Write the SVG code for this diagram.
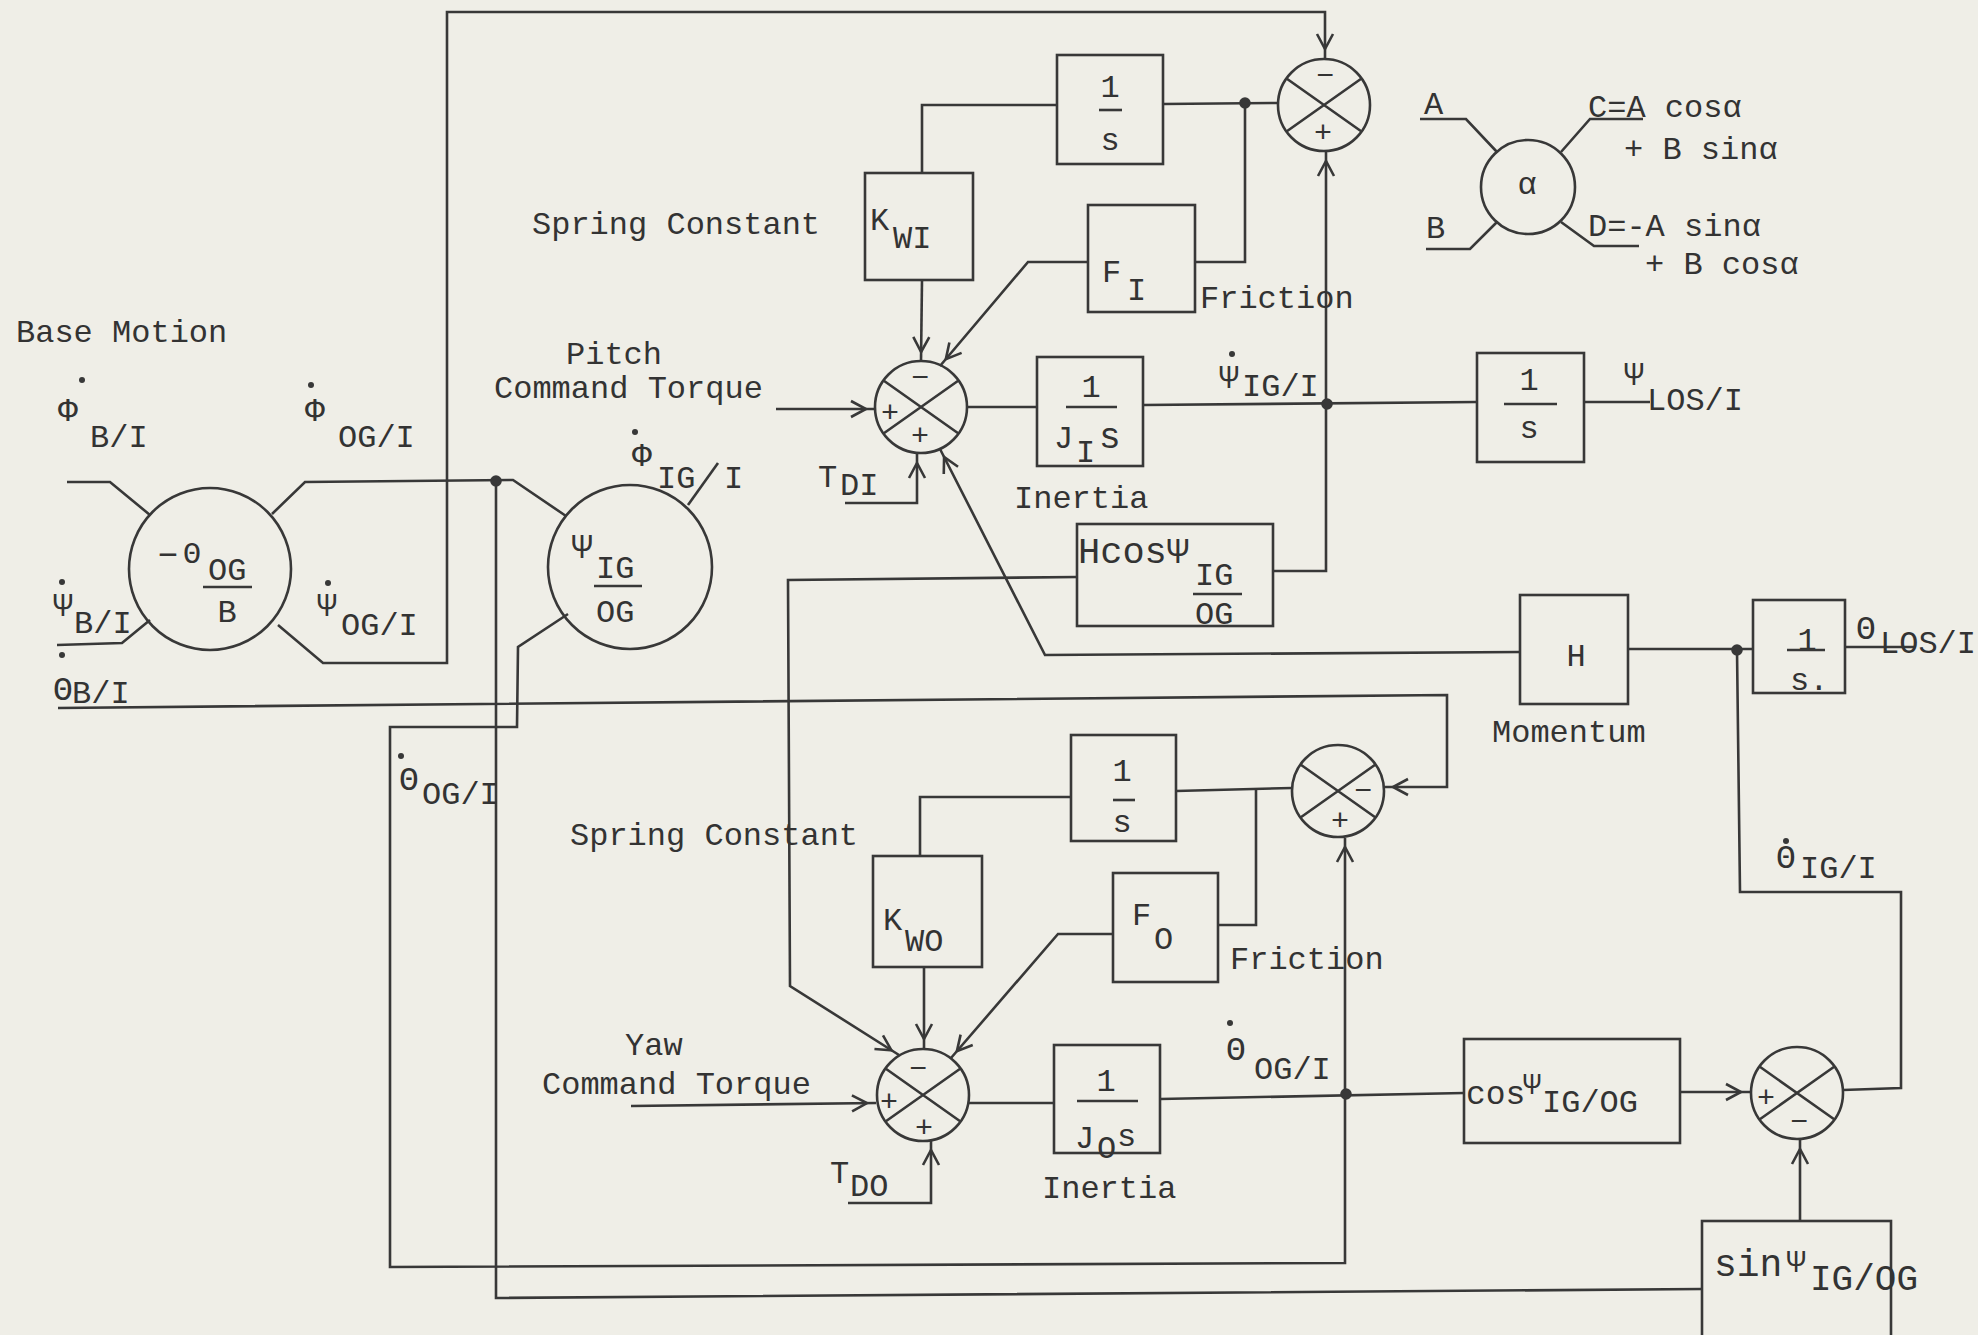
<svg xmlns="http://www.w3.org/2000/svg" width="1978" height="1335" viewBox="0 0 1978 1335">
<defs>
<style>
.ln{fill:none;stroke:#383838;stroke-width:2.6;stroke-linejoin:miter}
.bx{fill:none;stroke:#383838;stroke-width:2.6}
.t{font-family:"Liberation Mono","DejaVu Sans Mono",monospace;font-size:32px;fill:#333}
.g{font-size:33px;text-anchor:middle}
.s{font-size:30px;text-anchor:middle}
.m{text-anchor:middle}
.dot{fill:#383838}
</style>
<marker id="ar" markerUnits="userSpaceOnUse" viewBox="-2 -10 40 20" markerWidth="40" markerHeight="20" refX="24" refY="0" orient="auto">
<path d="M0,-8 L15,0 L0,8" fill="none" stroke="#383838" stroke-width="2.6"/>
</marker>
<g id="sumsym" class="bx">
<circle cx="0" cy="0" r="46"/>
<path d="M-37.5,-26.5 L37.5,26.5 M37.5,-26.5 L-37.5,26.5"/>
</g>
</defs>
<rect x="0" y="0" width="1978" height="1335" fill="#efeee7"/>

<g id="connectors" class="ln">
<path d="M278,625 L323,663 L447,663 L447,12 L1325,12 L1325,58" marker-end="url(#ar)"/>
<path d="M67,482 L110,482 L150,515"/>
<path d="M57,645 L122,643 L150,620"/>
<path d="M272,514 L305,482 L513,480 L566,516"/>
<path d="M496,481 L496,1298 L1702,1289"/>
<path d="M568,614 L518,647 L517,727 L390,727 L390,1267 L1345,1263 L1345,838" marker-end="url(#ar)"/>
<path d="M58,708 L1447,695 L1447,787 L1384,787" marker-end="url(#ar)"/>
<path d="M1077,577 L788,580 L790,986 L899,1055" marker-end="url(#ar)"/>
<path d="M967,407 L1037,407"/>
<path d="M1143,405 L1477,402"/>
<path d="M1273,571 L1326,571 L1326,152" marker-end="url(#ar)"/>
<path d="M1584,402 L1650,402"/>
<path d="M1277,103 L1163,104"/>
<path d="M1057,105 L922,105 L922,173"/>
<path d="M922,280 L921,361" marker-end="url(#ar)"/>
<path d="M1245,103 L1245,262 L1195,262"/>
<path d="M1088,262 L1028,262 L940,366" marker-end="url(#ar)"/>
<path d="M776,409 L875,409" marker-end="url(#ar)"/>
<path d="M845,503 L917,503 L917,454" marker-end="url(#ar)"/>
<path d="M1520,652 L1045,655 L940,449" marker-end="url(#ar)"/>
<path d="M1628,649 L1753,649"/>
<path d="M1845,647 L1915,647"/>
<path d="M1843,1090 L1901,1088 L1901,892 L1740,892 L1737,650"/>
<path d="M1160,1099 L1464,1093"/>
<path d="M1680,1092 L1750,1092" marker-end="url(#ar)"/>
<path d="M1800,1221 L1800,1140" marker-end="url(#ar)"/>
<path d="M1292,788 L1176,791"/>
<path d="M1071,797 L920,797 L920,856"/>
<path d="M924,967 L924,1048" marker-end="url(#ar)"/>
<path d="M1256,789 L1256,925 L1218,925"/>
<path d="M1113,934 L1058,934 L951,1058" marker-end="url(#ar)"/>
<path d="M631,1106 L876,1103" marker-end="url(#ar)"/>
<path d="M848,1203 L931,1203 L931,1141" marker-end="url(#ar)"/>
<path d="M969,1103 L1054,1103"/>
<path d="M688,505 L718,463"/>
<path d="M1420,119 L1466,119 L1497,152"/>
<path d="M1426,249 L1470,249 L1497,222"/>
<path d="M1561,152 L1590,119 L1643,119"/>
<path d="M1561,222 L1594,246 L1639,246"/>
<circle class="dot" cx="496" cy="481" r="4.5"/>
<circle class="dot" cx="1245" cy="103" r="4.5"/>
<circle class="dot" cx="1327" cy="404" r="4.5"/>
<circle class="dot" cx="1737" cy="650" r="4.5"/>
<circle class="dot" cx="1346" cy="1094" r="4.5"/>
</g>

<g id="labels" class="t">
<text x="16" y="342">Base Motion</text>
<circle class="dot" cx="82" cy="380" r="3"/><text class="g" x="68" y="421">Φ</text><text x="90" y="447">B/I</text>
<circle class="dot" cx="311" cy="385" r="3"/><text class="g" x="315" y="421">Φ</text><text x="338" y="447">OG/I</text>
<circle class="dot" cx="62" cy="582" r="3"/><text class="g" x="63" y="616">Ψ</text><text x="74" y="633">B/I</text>
<circle class="dot" cx="62" cy="655" r="3"/><text class="g" x="63" y="700">Θ</text><text x="72" y="703">B/I</text>
<circle class="dot" cx="328" cy="583" r="3"/><text class="g" x="327" y="616">Ψ</text><text x="341" y="635">OG/I</text>
<circle class="dot" cx="401" cy="756" r="3"/><text class="g" x="409" y="790">Θ</text><text x="422" y="804">OG/I</text>
<circle class="dot" cx="635" cy="432" r="3"/><text class="g" x="642" y="466">Φ</text><text x="657" y="488">IG</text><text x="724" y="488">I</text>
<text x="566" y="364">Pitch</text>
<text x="494" y="398">Command Torque</text>
<text x="532" y="234">Spring Constant</text>
<text x="1200" y="308">Friction</text>
<text x="1014" y="508">Inertia</text>
<text x="818" y="487">T</text><text x="840" y="495">DI</text>
<circle class="dot" cx="1232" cy="354" r="3"/><text class="g" x="1229" y="388">Ψ</text><text x="1242" y="396">IG/I</text>
<text class="g" x="1634" y="385">Ψ</text><text x="1647" y="410">LOS/I</text>
<text class="g" x="1866" y="639">Θ</text><text x="1880" y="653">LOS/I</text>
<text x="1492" y="742">Momentum</text>
<circle class="dot" cx="1786" cy="841" r="3"/><text class="g" x="1786" y="868">Θ</text><text x="1800" y="878">IG/I</text>
<text x="570" y="845">Spring Constant</text>
<text x="1230" y="969">Friction</text>
<text x="625" y="1055">Yaw</text>
<text x="542" y="1094">Command Torque</text>
<text x="830" y="1183">T</text><text x="850" y="1196">DO</text>
<text x="1042" y="1198">Inertia</text>
<circle class="dot" cx="1230" cy="1023" r="3"/><text class="g" x="1236" y="1060">Θ</text><text x="1254" y="1079">OG/I</text>
</g>

<g id="res1">
<circle class="bx" cx="210" cy="569" r="81"/>
<g class="t"><text class="m" x="168" y="566" style="font-size:34px">−</text><text class="g" x="192" y="563" style="font-size:30px">Θ</text><text x="208" y="580">OG</text><text class="m" x="227" y="622">B</text></g>
<path class="ln" d="M203,587 L252,587"/>
</g>
<g id="res2">
<circle class="bx" cx="630" cy="567" r="82"/>
<g class="t"><text class="g" x="582" y="558" style="font-size:35px">Ψ</text><text x="596" y="578">IG</text><text x="596" y="622">OG</text></g>
<path class="ln" d="M594,586 L642,586"/>
</g>

<g id="sum1"><use href="#sumsym" x="1324" y="105"/><g class="t s"><text x="1325" y="85">−</text><text x="1323" y="142">+</text></g></g>
<g id="sum2"><use href="#sumsym" x="921" y="407"/><g class="t s"><text x="920" y="387">−</text><text x="890" y="422">+</text><text x="920" y="445">+</text></g></g>
<g id="sum3"><use href="#sumsym" x="1338" y="791"/><g class="t s"><text x="1363" y="800">−</text><text x="1340" y="830">+</text></g></g>
<g id="sum4"><use href="#sumsym" x="923" y="1095"/><g class="t s"><text x="918" y="1078">−</text><text x="889" y="1111">+</text><text x="924" y="1137">+</text></g></g>
<g id="sum5"><use href="#sumsym" x="1797" y="1093"/><g class="t s"><text x="1766" y="1107">+</text><text x="1799" y="1131">−</text></g></g>

<g id="intP">
<rect class="bx" x="1057" y="55" width="106" height="109"/>
<g class="t m"><text x="1110" y="97">1</text><text x="1110" y="150">s</text></g>
<path class="ln" d="M1099,110 L1122,110"/>
</g>
<g id="kwi">
<rect class="bx" x="865" y="173" width="108" height="107"/>
<g class="t"><text x="870" y="230">K</text><text x="893" y="248">WI</text></g>
</g>
<g id="fi">
<rect class="bx" x="1088" y="205" width="107" height="107"/>
<g class="t"><text x="1102" y="282">F</text><text x="1127" y="300">I</text></g>
</g>
<g id="ji">
<rect class="bx" x="1037" y="357" width="106" height="109"/>
<g class="t"><text class="m" x="1091" y="397">1</text><text x="1054" y="448">J</text><text x="1076" y="462">I</text><text x="1099" y="448" style="font-size:36px">s</text></g>
<path class="ln" d="M1066,407 L1117,407"/>
</g>
<g id="hcos">
<rect class="bx" x="1077" y="524" width="196" height="102"/>
<g class="t"><text x="1078" y="563" style="font-size:37px">HcosΨ</text><text x="1195" y="585">IG</text><text x="1195" y="624">OG</text></g>
<path class="ln" d="M1193,594 L1242,594"/>
</g>
<g id="intPsi">
<rect class="bx" x="1477" y="353" width="107" height="109"/>
<g class="t m"><text x="1529" y="390">1</text><text x="1529" y="438">s</text></g>
<path class="ln" d="M1504,404 L1557,404"/>
</g>
<g id="hbox">
<rect class="bx" x="1520" y="595" width="108" height="109"/>
<text class="t m" x="1576" y="666">H</text>
</g>
<g id="intTh">
<rect class="bx" x="1753" y="600" width="92" height="93"/>
<g class="t"><text class="m" x="1807" y="650">1</text><text x="1790" y="690">s.</text></g>
<path class="ln" d="M1787,650 L1825,650"/>
</g>
<g id="intY">
<rect class="bx" x="1071" y="735" width="105" height="106"/>
<g class="t m"><text x="1122" y="781">1</text><text x="1122" y="832">s</text></g>
<path class="ln" d="M1113,800 L1135,800"/>
</g>
<g id="kwo">
<rect class="bx" x="873" y="856" width="109" height="111"/>
<g class="t"><text x="883" y="930">K</text><text x="905" y="951">WO</text></g>
</g>
<g id="fo">
<rect class="bx" x="1113" y="873" width="105" height="109"/>
<g class="t"><text x="1132" y="925">F</text><text x="1154" y="949">O</text></g>
</g>
<g id="jo">
<rect class="bx" x="1054" y="1045" width="106" height="108"/>
<g class="t"><text class="m" x="1106" y="1091">1</text><text x="1075" y="1148">J</text><text x="1097" y="1158">O</text><text x="1117" y="1146">s</text></g>
<path class="ln" d="M1077,1101 L1138,1101"/>
</g>
<g id="cosbox">
<rect class="bx" x="1464" y="1039" width="216" height="104"/>
<g class="t"><text x="1466" y="1104" style="font-size:33px">cos</text><text class="g" x="1532" y="1094" style="font-size:30px">Ψ</text><text x="1542" y="1112">IG/OG</text></g>
</g>
<g id="sinbox">
<rect class="bx" x="1702" y="1221" width="189" height="125"/>
<g class="t"><text x="1714" y="1276" style="font-size:38px">sin</text><text class="g" x="1796" y="1272" style="font-size:32px">Ψ</text><text x="1810" y="1290" style="font-size:36px">IG/OG</text></g>
</g>
<g id="legend">
<circle class="bx" cx="1528" cy="187" r="47"/>
<g class="t"><text class="m" x="1527" y="194">α</text><text x="1424" y="114">A</text><text x="1426" y="238">B</text>
<text x="1588" y="117">C=A cosα</text><text x="1624" y="159">+ B sinα</text>
<text x="1588" y="236">D=-A sinα</text><text x="1645" y="274">+ B cosα</text></g>
</g>
</svg>
